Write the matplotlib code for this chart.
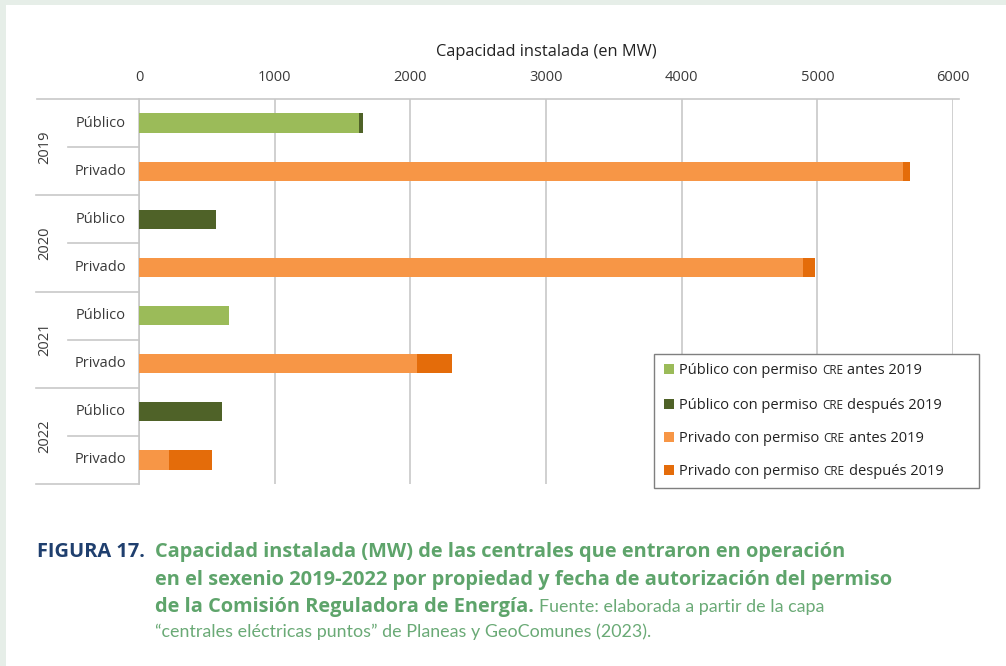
import matplotlib.pyplot as plt
from matplotlib.patches import Rectangle

plt.rcParams['font.family'] = ['Open Sans', 'DejaVu Sans']

years = ['2019', '2020', '2021', '2022']
owners = ['Público', 'Privado']
pub_antes = [1620, 0, 663, 0]
pub_despues = [30, 567, 0, 612]
priv_antes = [5630, 4895, 2050, 220]
priv_despues = [52, 87, 257, 318]
xticks = [0, 1000, 2000, 3000, 4000, 5000, 6000]

c_pub_antes = '#9bbb59'
c_pub_desp = '#4f6228'
c_priv_antes = '#f79646'
c_priv_desp = '#e46c0a'
grid_c = '#c8c8c8'
txt_c = '#3a3a3a'

W, H = 1006, 666
fig = plt.figure(figsize=(W / 100, H / 100), dpi=100, facecolor='white')
tf = fig.transFigure

# light frame band (top and left)
fig.patches.append(Rectangle((0, 1 - 5 / H), 1, 5 / H, transform=tf,
                             facecolor='#e6eee8', edgecolor='none'))
fig.patches.append(Rectangle((0, 0), 6 / W, 1, transform=tf,
                             facecolor='#e6eee8', edgecolor='none'))

ax = fig.add_axes([139 / W, 1 - 484 / H, 814 / W, 385 / H])

rows = []
for i, y in enumerate(years):
    rows.append(('pub', i))
    rows.append(('priv', i))

pos = list(range(len(rows)))
bh = 0.4
for p, (kind, i) in zip(pos, rows):
    if kind == 'pub':
        a, d, ca, cd = pub_antes[i], pub_despues[i], c_pub_antes, c_pub_desp
    else:
        a, d, ca, cd = priv_antes[i], priv_despues[i], c_priv_antes, c_priv_desp
    ax.barh(p, a, height=bh, color=ca, zorder=3)
    ax.barh(p, d, left=a, height=bh, color=cd, zorder=3)

ax.set_ylim(len(rows) - 0.5, -0.5)
ax.set_xlim(0, 6000)
ax.xaxis.tick_top()
ax.xaxis.set_label_position('top')
ax.set_xticks(xticks)
ax.set_xticklabels([str(t) for t in xticks], fontsize=10.5, color=txt_c)
ax.tick_params(axis='x', length=0, pad=10)
ax.set_xlabel('Capacidad instalada (en MW)', fontsize=11.8, color='#222222', labelpad=10)
ax.set_yticks([])
ax.grid(axis='x', color=grid_c, lw=1.2, zorder=0)
for s in ['right', 'bottom', 'top']:
    ax.spines[s].set_visible(False)
ax.spines['left'].set_color(grid_c)
ax.spines['left'].set_linewidth(1.2)

# top rule
ax.plot([-0.1253, 1.0074], [1, 1], transform=ax.transAxes, color=grid_c, lw=1.2, clip_on=False)

# category labels and group separators
for p, (kind, i) in zip(pos, rows):
    ax.text(-0.047, p, owners[0] if kind == 'pub' else owners[1], ha='center', va='center',
            fontsize=10.5, color=txt_c, transform=ax.get_yaxis_transform())
for i, y in enumerate(years):
    ax.text(-0.116, 2 * i + 0.5, y, ha='center', va='center', rotation=90,
            fontsize=10.5, color=txt_c, transform=ax.get_yaxis_transform())
    ax.plot([-0.0872, 0], [2 * i + 0.5, 2 * i + 0.5], transform=ax.get_yaxis_transform(),
            color=grid_c, lw=1.2, clip_on=False)
    ax.plot([-0.1265, 0], [2 * i + 1.5, 2 * i + 1.5], transform=ax.get_yaxis_transform(),
            color=grid_c, lw=1.2, clip_on=False)

# legend drawn by hand (inside ax so it covers the gridlines)
lx0, lx1, ly0, ly1 = 654, 979, 354, 488
ax.add_patch(Rectangle((lx0 / W, 1 - ly1 / H), (lx1 - lx0) / W, (ly1 - ly0) / H,
                       transform=tf, facecolor='white', edgecolor='#7f7f7f',
                       lw=1.0, zorder=10, clip_on=False))
leg = [(c_pub_antes, 'Público con permiso', 'antes 2019'),
       (c_pub_desp, 'Público con permiso', 'después 2019'),
       (c_priv_antes, 'Privado con permiso', 'antes 2019'),
       (c_priv_desp, 'Privado con permiso', 'después 2019')]
for k, (c, a, b) in enumerate(leg):
    yc = [369, 404, 437, 470][k]
    yb = 1 - (yc + 5) / H
    ax.add_patch(Rectangle((664 / W, yb), 10 / W, 10 / H,
                           transform=tf, facecolor=c, edgecolor='none',
                           zorder=11, clip_on=False))
    t1 = ax.text(679 / W, yb, a, ha='left', va='baseline', fontsize=10.5,
                 color='#222222', zorder=11, transform=tf)
    t2 = ax.annotate('CRE', xy=(1, yb), xycoords=(t1, tf), xytext=(3, 0),
                     textcoords='offset points', ha='left', va='baseline',
                     fontsize=8.5, color='#222222', zorder=11, annotation_clip=False)
    ax.annotate(b, xy=(1, yb), xycoords=(t2, tf), xytext=(3, 0),
                textcoords='offset points', ha='left', va='baseline',
                fontsize=10.5, color='#222222', zorder=11, annotation_clip=False)

# caption
blue = '#1f3f6e'
green = '#5ea46b'
green_l = '#6aaa76'
cap_font = ['Open Sans', 'DejaVu Sans']
reg_font = ['Lato', 'DejaVu Sans']
fs_b = 14.4
fig.text(37 / W, 1 - 557 / H, 'FIGURA 17.', ha='left', va='baseline', fontsize=fs_b,
         fontweight='bold', color=blue, family=cap_font)
fig.text(155 / W, 1 - 557 / H, 'Capacidad instalada (MW) de las centrales que entraron en operación',
         ha='left', va='baseline', fontsize=fs_b, fontweight='bold', color=green, family=cap_font)
fig.text(155 / W, 1 - 585 / H, 'en el sexenio 2019-2022 por propiedad y fecha de autorización del permiso',
         ha='left', va='baseline', fontsize=fs_b, fontweight='bold', color=green, family=cap_font)
y3 = 1 - 612 / H
t3 = fig.text(155 / W, y3, 'de la Comisión Reguladora de Energía.',
              ha='left', va='baseline', fontsize=fs_b, fontweight='bold', color=green, family=cap_font)
ax.annotate('Fuente: elaborada a partir de la capa', xy=(1, y3), xycoords=(t3, tf),
            xytext=(4, 0), textcoords='offset points', ha='left', va='baseline',
            fontsize=12.9, color=green_l, family=reg_font, annotation_clip=False)
fig.text(155 / W, 1 - 637 / H, '“centrales eléctricas puntos” de Planeas y GeoComunes (2023).',
         ha='left', va='baseline', fontsize=12.9, color=green_l, family=reg_font)

fig.savefig('out.png', dpi=100, facecolor='white')
